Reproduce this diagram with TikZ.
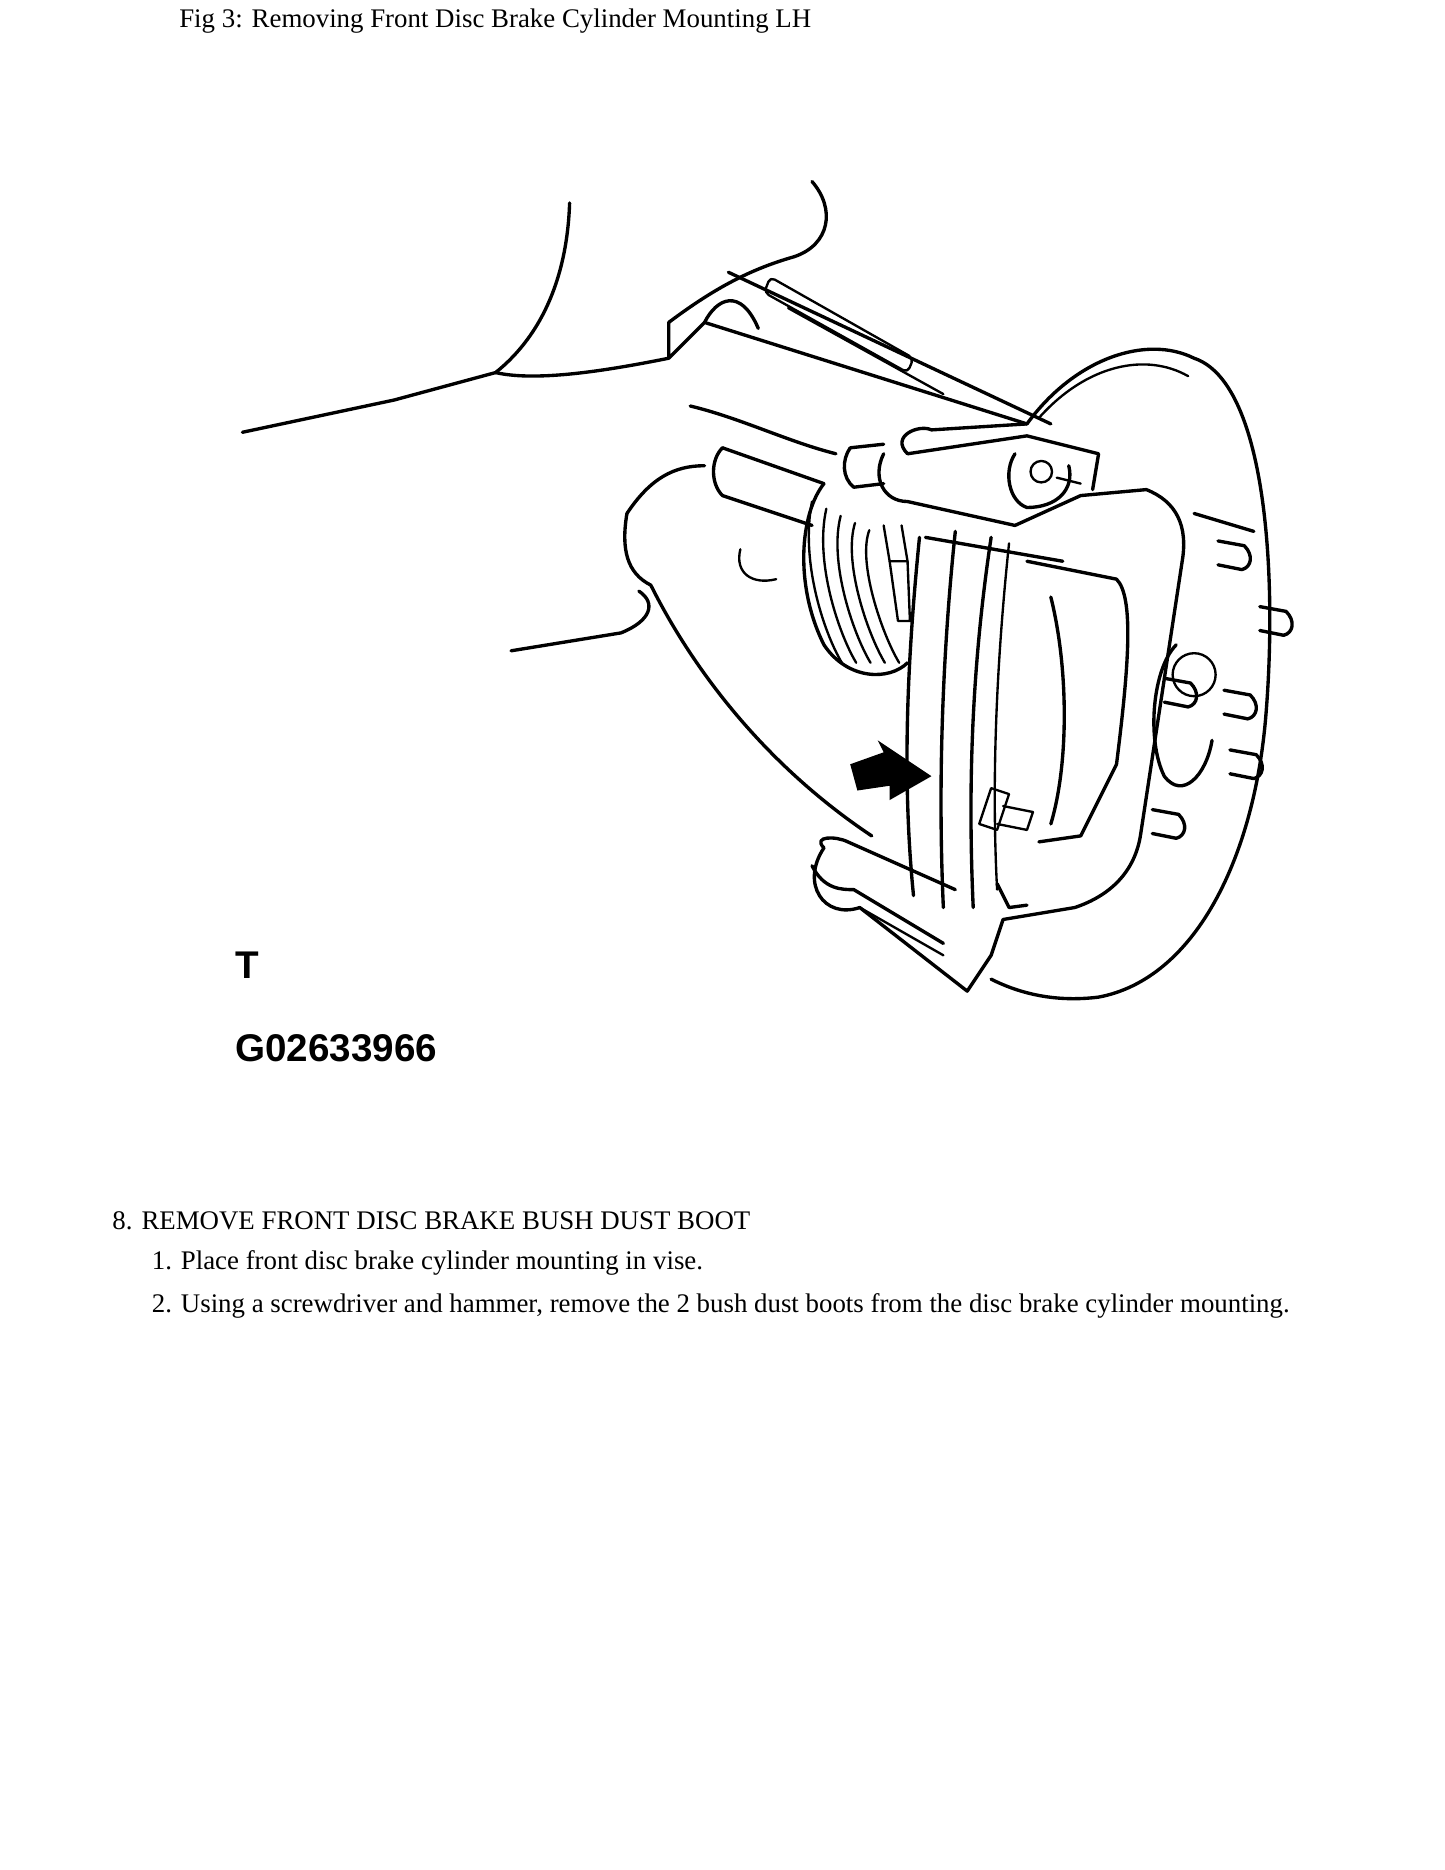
\documentclass[tikz,border=0pt]{standalone}
\usepackage{fontspec}
\setmainfont{Liberation Serif}
\newfontfamily\lsans{Liberation Sans}
\begin{document}
\begin{tikzpicture}[x=0.05cm,y=-0.05cm,
  ln/.style={line width=4pt,line cap=round,line join=round},
  thin/.style={line width=2.8pt,line cap=round,line join=round},
  txt/.style={anchor=west,inner sep=0pt,font=\fontsize{32}{38}\selectfont},
  lab/.style={anchor=west,inner sep=0pt,font=\lsans\bfseries\fontsize{46}{54}\selectfont}]
\useasboundingbox (0,0) rectangle (1210,1566);
\node[txt] (cap) at (150,18) {Fig 3: Removing Front Disc Brake Cylinder Mounting LH};
\node[lab] (t) at (197,808) {T};
\node[lab] (g) at (197,878) {G02633966};
\node[txt] (s8) at (94,1022) {8. REMOVE FRONT DISC BRAKE BUSH DUST BOOT};
\node[txt] (s1) at (127,1058) {1. Place front disc brake cylinder mounting in vise.};
\node[txt] (s2) at (127,1094) {2. Using a screwdriver and hammer, remove the 2 bush dust boots from the disc brake cylinder mounting.};
% body / arms
\draw[ln] (203,362) -- (330,335) -- (415,312) .. controls (455,280) and (475,230) .. (477,170);
\draw[ln] (680,152) .. controls (700,175) and (695,205) .. (665,215) .. controls (630,225) and (600,240) .. (560,270);
\draw[ln] (415,312) .. controls (450,320) and (510,310) .. (560,300);
\draw[ln] (560,270) -- (560,300) -- (590,270) -- (860,355);
\draw[ln] (590,270) .. controls (600,250) and (620,240) .. (635,275);
\draw[ln] (610,228) -- (880,355);
\draw[thin,rounded corners=6] (645,232) -- (765,300) -- (760,312) -- (640,245) -- cycle;
\draw[thin] (660,258) -- (790,330);
% lower arm
\draw[ln] (428,545) -- (520,530) .. controls (545,520) and (550,505) .. (535,495);
\draw[ln] (525,430) .. controls (520,460) and (525,480) .. (545,490) .. controls (580,560) and (640,640) .. (730,700);
\draw[ln] (525,430) .. controls (545,400) and (565,390) .. (590,390);
\draw[ln] (578,340) .. controls (620,350) and (660,370) .. (700,380);
\draw[thin] (620,460) .. controls (615,480) and (630,490) .. (650,485);
% drive shaft
\draw[ln] (605,375) .. controls (595,385) and (595,405) .. (605,415) -- (680,440);
\draw[ln] (605,375) -- (690,405);
\draw[ln] (690,405) .. controls (670,430) and (665,490) .. (690,540) .. controls (710,570) and (745,570) .. (760,555);
\foreach \i in {0,1,2,3,4} \draw[thin] (680+\i*12,420+\i*6) .. controls (670+\i*12,470) and (690+\i*12,530) .. (705+\i*12,555);
\draw[thin] (740,440) -- (745,470) -- (760,470) -- (755,440);
\draw[thin] (745,470) -- (752,520) -- (762,520) -- (760,470);
% disc
\draw[ln] (860,355) .. controls (900,300) and (960,280) .. (1000,300) .. controls (1060,320) and (1070,480) .. (1060,600) .. controls (1050,720) and (1000,820) .. (920,835) .. controls (880,840) and (850,830) .. (830,820);
\draw[thin] (870,350) .. controls (910,305) and (960,295) .. (995,315);
% caliper mounting
\draw[ln] (740,380) .. controls (730,400) and (740,420) .. (760,420) -- (850,440) -- (905,415) -- (960,410) .. controls (985,420) and (995,440) .. (990,470) -- (955,700) .. controls (950,730) and (930,750) .. (900,760) -- (840,770) -- (830,800) -- (810,830) -- (720,760) .. controls (690,770) and (670,740) .. (690,710);
\draw[ln] (760,380) -- (860,365) -- (920,380) -- (915,410);
\draw[ln] (760,380) .. controls (745,365) and (770,355) .. (780,360) -- (860,355);
\draw[ln] (850,380) .. controls (840,395) and (845,420) .. (860,425) .. controls (885,425) and (900,410) .. (895,390);
\draw[thin] (872,395) circle (9);
\draw[thin] (885,400) -- (905,405);
\draw[ln] (712,375) .. controls (705,385) and (705,400) .. (715,408) -- (740,405);
\draw[ln] (712,375) -- (740,372);
% pads
\draw[ln] (770,450) .. controls (760,550) and (755,650) .. (765,750);
\draw[ln] (800,445) .. controls (790,540) and (785,650) .. (790,760);
\draw[ln] (830,450) .. controls (815,550) and (810,650) .. (815,760);
\draw[thin] (845,455) .. controls (835,550) and (830,650) .. (835,745);
\draw[ln] (860,470) -- (935,485) .. controls (950,500) and (945,560) .. (935,640) -- (905,700) -- (870,705);
\draw[ln] (880,500) .. controls (895,560) and (895,640) .. (880,690);
\draw[ln] (775,450) -- (890,470);
% lower bolt
\draw[thin] (830,660) -- (820,690) -- (835,695) -- (845,665) -- cycle;
\draw[thin] (840,675) -- (865,680) -- (860,695) -- (835,690);
% lower bush
\draw[ln] (690,710) .. controls (680,700) and (700,700) .. (710,705) -- (800,745);
\draw[ln] (680,725) .. controls (690,745) and (705,745) .. (715,745) -- (790,790);
\draw[thin] (720,760) -- (790,800);
\draw[ln] (835,740) -- (845,760) -- (860,758);
% hub
\draw[ln] (985,540) .. controls (965,560) and (960,620) .. (975,650) .. controls (990,670) and (1010,650) .. (1015,620);
\draw[thin] (1000,565) circle (18);
\foreach \x/\y in {1030/465,1065/520,1040/640,975/690,985/580,1035/590}
  \draw[ln] (\x-10,\y-12) -- (\x+12,\y-8) .. controls (\x+20,\y) and (\x+18,\y+10) .. (\x+10,\y+12) -- (\x-10,\y+8);
\draw[ln] (1000,430) -- (1050,445);
% arrow
\fill (712,640) -- (740,630) -- (735,620) -- (780,650) -- (745,670) -- (745,658) -- (718,662) -- cycle;
\end{tikzpicture}
\end{document}
